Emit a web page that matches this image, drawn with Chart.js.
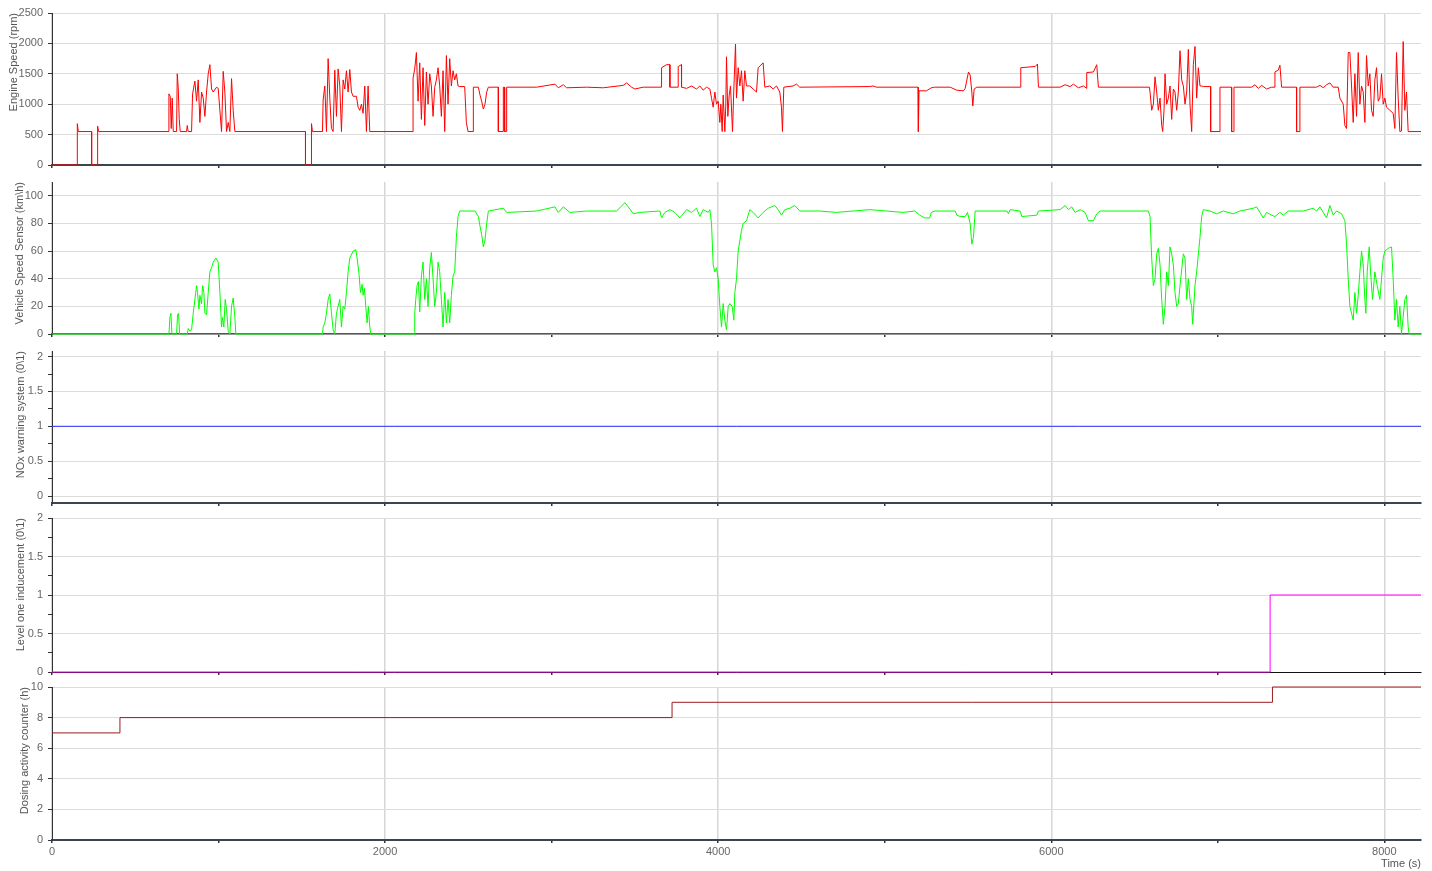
<!DOCTYPE html>
<html>
<head>
<meta charset="utf-8">
<script src="https://cdn.jsdelivr.net/npm/chart.js@4.4.1/dist/chart.umd.min.js"></script>
<style>
  body { margin: 0; background: #fff; width: 1432px; height: 871px; overflow: hidden; position: relative; }
  canvas { position: absolute; left: 0; }
</style>
</head>
<body>
<canvas id="engine" width="1432" height="176" style="top:1px"></canvas>
<canvas id="vehicle" width="1432" height="176" style="top:170px"></canvas>
<canvas id="nox" width="1432" height="176" style="top:339px"></canvas>
<canvas id="level" width="1432" height="178" style="top:506px"></canvas>
<canvas id="dosing" width="1432" height="196" style="top:675px"></canvas>
<script>
// time (s), value pairs
const engineSpeed = [
  [0,0],[152,0],[152,680],[158,550],[238,550],[238,0],[274,0],[274,640],[280,550],
  [702,550],[702,1170],[710,1130],[716,600],[722,1100],[728,550],[748,550],[752,1500],[758,1270],
  [764,750],[770,550],[808,550],[812,650],[818,550],[838,550],[844,1170],[858,1380],[868,1050],
  [878,1400],[888,700],[898,1200],[908,1100],[918,800],[928,1200],[938,1500],[948,1650],[958,1250],
  [968,1200],[988,1280],[998,1260],[1008,900],[1018,550],[1028,1540],[1038,1200],[1048,550],
  [1058,700],[1068,550],[1078,1420],[1088,900],[1098,550],[1522,550],[1522,0],[1558,0],[1558,680],
  [1564,550],[1624,550],[1628,1070],[1638,1300],[1648,550],[1658,1750],[1668,1100],[1678,600],
  [1688,550],[1698,1560],[1708,800],[1718,1580],[1728,1300],[1738,550],[1748,1400],[1758,1250],
  [1768,1550],[1778,1200],[1788,1570],[1798,1200],[1808,1130],[1828,1130],[1838,950],[1848,900],
  [1858,1000],[1868,850],[1878,1300],[1888,550],[1898,1300],[1908,550],[2168,550],[2168,1430],
  [2178,1580],[2188,1850],[2198,1050],[2208,1680],[2218,750],[2228,1600],[2238,650],[2248,1530],
  [2258,1000],[2268,1500],[2278,1300],[2288,800],[2298,1280],[2308,1400],[2318,1600],[2328,1300],
  [2338,800],[2348,1550],[2358,550],[2368,1800],[2378,1000],[2388,1750],[2398,1300],[2408,1550],
  [2418,1400],[2428,1500],[2438,1300],[2448,1290],[2478,1290],[2488,700],[2498,550],[2530,550],
  [2530,1280],[2560,1280],[2570,1150],[2580,1050],[2590,920],[2600,1000],[2610,1200],[2620,1280],
  [2680,1280],[2680,550],[2708,550],[2710,1280],[2716,1280],[2718,550],[2728,550],[2730,1280],
  [2910,1280],[3020,1330],[3040,1270],[3070,1320],[3090,1270],[3210,1280],[3310,1270],[3430,1310],
  [3450,1350],[3480,1280],[3500,1250],[3550,1280],[3660,1280],[3660,1600],[3690,1650],[3710,1650],
  [3710,1280],[3760,1280],[3760,1620],[3780,1650],[3780,1280],[3810,1260],[3840,1300],[3870,1250],
  [3890,1300],[3910,1230],[3930,1280],[3950,1250],[3960,1100],[3970,950],[3980,1200],[3990,1000],
  [4000,1050],[4010,700],[4016,1000],[4024,550],[4030,1150],[4040,550],[4046,1000],[4050,1780],
  [4058,800],[4066,1150],[4074,1300],[4086,550],[4094,1250],[4104,1990],[4110,1100],[4120,1600],
  [4130,1300],[4140,1550],[4150,1050],[4160,1550],[4170,1300],[4190,1300],[4210,1250],[4230,1200],
  [4240,1600],[4270,1680],[4280,1280],[4310,1300],[4330,1250],[4350,1300],[4370,1200],[4380,950],
  [4386,550],[4394,1280],[4450,1300],[4470,1330],[4490,1280],[4910,1290],[4930,1300],[4950,1280],
  [5200,1280],[5202,550],[5206,1220],[5250,1220],[5280,1270],[5300,1280],[5393,1280],[5433,1230],
  [5473,1220],[5483,1260],[5503,1530],[5513,1480],[5523,1200],[5529,970],[5537,1250],[5553,1280],
  [5817,1280],[5817,1600],[5903,1620],[5917,1660],[5923,1280],[6053,1280],[6083,1320],[6113,1290],
  [6133,1330],[6163,1270],[6193,1300],[6213,1260],[6213,1520],[6253,1530],[6273,1650],[6283,1280],
  [6589,1280],[6593,1200],[6603,900],[6613,1000],[6623,1450],[6633,1200],[6643,900],[6653,1100],
  [6663,650],[6669,550],[6677,900],[6683,1500],[6693,1000],[6703,1100],[6713,1300],[6723,750],
  [6733,1250],[6743,1200],[6753,900],[6763,1200],[6773,1880],[6783,1400],[6793,1300],[6803,1000],
  [6813,1200],[6823,1900],[6833,1000],[6843,550],[6853,1650],[6863,1950],[6873,1100],[6883,1600],
  [6893,1300],[6903,1300],[6913,1290],[6957,1290],[6957,550],[7013,550],[7013,1280],[7083,1280],
  [7083,550],[7093,550],[7097,1280],[7203,1280],[7223,1320],[7243,1260],[7263,1310],[7293,1250],
  [7323,1280],[7343,1280],[7343,1530],[7363,1560],[7373,1640],[7383,1280],[7473,1280],[7473,550],
  [7493,550],[7493,1280],[7593,1280],[7613,1310],[7633,1270],[7653,1320],[7673,1350],[7693,1280],
  [7723,1280],[7733,1100],[7753,1000],[7763,650],[7773,600],[7783,1850],[7793,1850],[7803,1300],
  [7813,700],[7823,1500],[7833,800],[7843,1850],[7853,1000],[7863,1300],[7873,1200],[7883,700],
  [7893,1800],[7903,1300],[7913,1500],[7923,900],[7933,800],[7943,1400],[7953,1600],[7963,1050],
  [7973,1100],[7983,1500],[7993,1000],[8003,1100],[8013,950],[8033,900],[8053,850],[8063,600],
  [8073,1850],[8083,1100],[8093,550],[8103,560],[8113,2030],[8123,900],[8133,1200],[8143,550],
  [8220,550]
];

const vehicleSpeed = [
  [0,0],[702,0],[708,12],[714,15],[720,0],[748,0],[754,14],[760,15],[766,0],[812,0],[818,4],
  [828,2],[838,3],[848,15],[858,25],[868,35],[874,30],[882,18],[888,28],[898,22],[904,35],[912,30],
  [918,15],[928,14],[938,30],[948,45],[958,48],[968,52],[984,55],[998,52],[1008,30],[1018,5],
  [1024,12],[1032,5],[1040,25],[1048,18],[1058,2],[1068,0],[1078,20],[1088,26],[1098,12],[1104,0],
  [1624,0],[1628,5],[1638,8],[1648,15],[1658,25],[1668,29],[1678,15],[1688,3],[1698,0],[1708,15],
  [1718,20],[1728,25],[1738,5],[1748,20],[1758,18],[1768,30],[1778,45],[1788,55],[1808,60],
  [1824,61],[1832,55],[1844,43],[1852,30],[1862,36],[1868,28],[1876,33],[1884,20],[1892,8],
  [1900,20],[1908,5],[1914,0],[2174,0],[2178,15],[2184,25],[2192,35],[2200,38],[2208,16],[2218,42],
  [2228,52],[2238,25],[2248,40],[2258,20],[2268,48],[2278,59],[2288,40],[2298,20],[2308,30],
  [2318,52],[2328,45],[2338,25],[2348,5],[2358,30],[2368,8],[2378,25],[2388,8],[2398,28],[2408,42],
  [2418,45],[2428,70],[2438,85],[2448,89],[2488,89],[2540,89],[2560,85],[2570,78],[2580,72],
  [2590,63],[2600,68],[2610,80],[2620,89],[2710,91],[2730,88],[2910,89],[3020,92],[3040,88],
  [3070,92],[3110,88],[3210,89],[3390,89],[3440,95],[3460,92],[3490,87],[3530,88],[3650,89],
  [3660,84],[3680,88],[3710,90],[3740,88],[3770,84],[3810,90],[3840,88],[3870,91],[3890,85],
  [3910,90],[3940,88],[3950,90],[3960,80],[3970,50],[3980,45],[3990,48],[4000,40],[4010,20],
  [4020,5],[4030,22],[4040,10],[4050,3],[4060,20],[4070,22],[4084,20],[4094,10],[4100,30],[4110,40],
  [4120,60],[4140,75],[4150,80],[4170,82],[4190,90],[4210,88],[4240,84],[4270,88],[4300,91],
  [4340,93],[4360,90],[4380,86],[4400,90],[4430,91],[4460,93],[4490,89],[4610,89],[4710,88],
  [4910,90],[5010,89],[5110,88],[5180,89],[5210,86],[5240,84],[5270,84],[5280,88],[5300,89],
  [5423,89],[5433,86],[5453,85],[5483,85],[5497,88],[5513,80],[5523,65],[5533,70],[5543,89],
  [5733,89],[5743,87],[5753,90],[5813,89],[5823,85],[5913,86],[5923,89],[6053,90],[6083,93],
  [6103,90],[6123,92],[6143,88],[6173,90],[6203,88],[6223,82],[6253,82],[6273,87],[6293,89],
  [6583,89],[6593,85],[6603,55],[6613,35],[6623,40],[6633,58],[6643,62],[6653,50],[6663,25],
  [6673,7],[6683,20],[6693,45],[6703,35],[6713,63],[6723,58],[6733,50],[6743,30],[6753,20],
  [6763,22],[6773,35],[6793,58],[6803,55],[6813,25],[6823,40],[6833,25],[6843,20],[6849,7],
  [6863,35],[6873,45],[6893,70],[6903,85],[6913,90],[6953,89],[6993,87],[7033,89],[7093,87],
  [7133,89],[7213,91],[7233,92],[7253,88],[7273,84],[7293,88],[7323,86],[7343,85],[7373,88],
  [7393,86],[7423,89],[7513,89],[7573,91],[7593,89],[7613,92],[7633,88],[7653,84],[7673,93],
  [7693,86],[7713,89],[7743,87],[7763,82],[7773,65],[7783,40],[7793,20],[7813,10],[7823,30],
  [7833,15],[7843,28],[7853,45],[7863,60],[7873,50],[7883,25],[7889,15],[7897,45],[7909,63],
  [7917,45],[7929,25],[7943,45],[7957,35],[7973,25],[7983,40],[7993,55],[8003,60],[8023,62],
  [8043,63],[8053,40],[8063,10],[8073,25],[8083,5],[8093,20],[8103,0],[8123,25],[8133,28],
  [8143,5],[8149,0],[8220,0]
];

const noxWarning = [[0,1],[8220,1]];
const levelOne = [[0,0],[7314,1],[8220,1]];
const dosingCounter = [[0,7],[408,8],[3723,9],[7328,10],[8220,10]];

const timeTicks = [0,1000,2000,3000,4000,5000,6000,7000,8000];
const engineTicks = [0,500,1000,1500,2000,2500];
const vehicleTicks = [0,20,40,60,80,100];
const noxTicks = [0,0.5,1,1.5,2];
const levelTicks = [0,0.5,1,1.5,2];
const dosingTicks = [0,2,4,6,8,10];

Chart.defaults.font.family = '"Liberation Sans", Arial, sans-serif';
Chart.defaults.font.size = 11;
Chart.defaults.color = '#666';

function withMinors(major) {
  const out = [];
  for (let i = 0; i < major.length; i++) {
    out.push(major[i]);
    if (i < major.length - 1) out.push((major[i] + major[i + 1]) / 2);
  }
  return out;
}

function isIn(list, v) {
  return list.some(m => Math.abs(m - v) < 1e-6);
}

function panel(id, p) {
  const xMajor = timeTicks.filter(t => t % 2000 === 0);
  new Chart(document.getElementById(id), {
    type: 'line',
    data: {
      datasets: [{
        data: p.series.map(d => ({x: d[0], y: d[1]})),
        borderColor: p.color,
        borderWidth: 1,
        pointRadius: 0,
        fill: false,
        tension: 0,
        clip: false,
        stepped: p.stepped || false
      }]
    },
    options: {
      responsive: false,
      animation: false,
      devicePixelRatio: 1,
      // chart area sits 12px inside the canvas top and bottom
      layout: { padding: { top: 12, right: 11, left: 0, bottom: p.bottom ? 0 : 8 } },
      plugins: { legend: { display: false }, tooltip: { enabled: false } },
      scales: {
        x: {
          type: 'linear',
          min: 0,
          max: 8220,
          afterBuildTicks: s => { s.ticks = timeTicks.map(v => ({value: v})); },
          afterFit: s => { s.height = p.bottom ? 31 : 4; },
          grid: {
            color: c => (c.tick && isIn(xMajor, c.tick.value)) ? '#d6d6d6' : 'rgba(0,0,0,0)',
            tickColor: '#333',
            tickLength: 3,
            lineWidth: 1.5
          },
          border: { color: p.axisColor || '#3a4550', width: p.axisWidth || 2 },
          ticks: {
            display: !!p.bottom,
            autoSkip: false,
            maxRotation: 0,
            padding: 2,
            callback: v => isIn(xMajor, v) ? String(v) : ''
          },
          title: {
            display: !!p.bottom,
            text: 'Time (s)',
            align: 'end',
            color: '#555',
            padding: { top: 0, bottom: 0 }
          }
        },
        y: {
          min: p.min,
          max: p.max,
          afterBuildTicks: s => { s.ticks = withMinors(p.ticks).map(v => ({value: v})); },
          afterFit: s => { s.width = 52; },
          grid: {
            color: c => (c.tick && isIn(p.ticks, c.tick.value)) ? '#dcdcdc' : 'rgba(0,0,0,0)',
            tickColor: '#333',
            tickLength: 4
          },
          border: { color: '#333', width: 1 },
          ticks: {
            padding: 5,
            callback: v => isIn(p.ticks, v) ? String(v) : ''
          },
          title: {
            display: true,
            text: p.title,
            align: 'end',
            color: '#555',
            padding: { top: p.titlePad, bottom: 0 }
          }
        }
      }
    }
  });
}

panel('engine', { series: engineSpeed, color: '#ff0000', min: 0, max: 2500, ticks: engineTicks,
  title: 'Engine Speed (rpm)', titlePad: 7 });
panel('vehicle', { series: vehicleSpeed, color: '#00ff00', min: 0, max: 110, ticks: vehicleTicks,
  title: 'Vehicle Speed Sensor (km\\h)', titlePad: 13, axisColor: '#555', axisWidth: 1.5 });
panel('nox', { series: noxWarning, color: '#2b2bff', min: -0.1, max: 2.08, ticks: noxTicks,
  title: 'NOx warning system (0\\1)', titlePad: 14 });
panel('level', { series: levelOne, color: '#ff00ff', min: 0, max: 2, ticks: levelTicks, stepped: true,
  title: 'Level one inducement (0\\1)', titlePad: 14, axisColor: '#111', axisWidth: 1 });
panel('dosing', { series: dosingCounter, color: '#9b1c1c', min: 0, max: 10, ticks: dosingTicks, stepped: true,
  title: 'Dosing activity counter (h)', titlePad: 18, bottom: true });
</script>
</body>
</html>
